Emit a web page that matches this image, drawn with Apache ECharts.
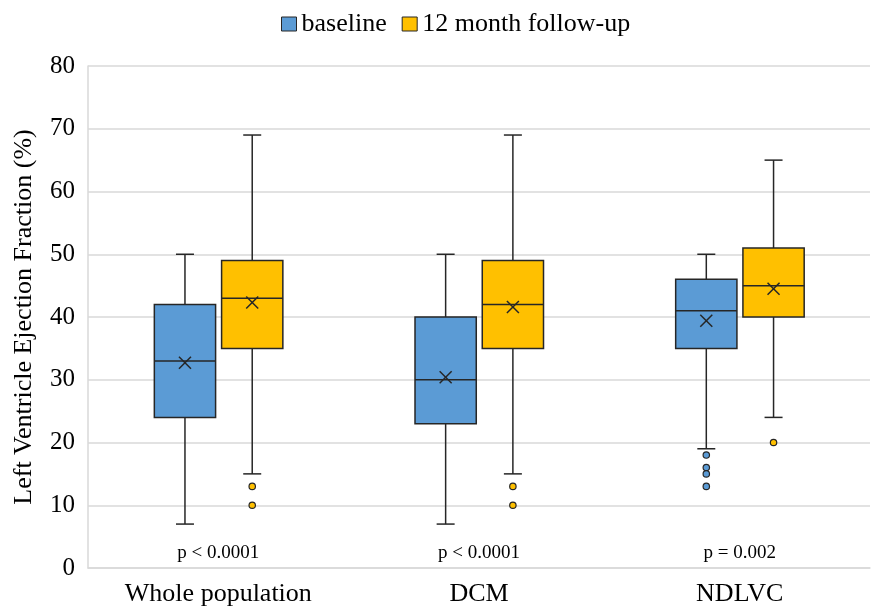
<!DOCTYPE html>
<html>
<head>
<meta charset="utf-8">
<script src="https://cdn.jsdelivr.net/npm/echarts@6/dist/echarts.min.js"></script>
<style>
html, body { margin: 0; padding: 0; background: #fff; }
#chart { width: 872px; height: 607px; }
</style>
</head>
<body>
<div id="chart"></div>
<script>
// data: [min, Q1, median, Q3, max]
var categories = ['Whole population', 'DCM', 'NDLVC'];
var baselineStats = [[7, 24, 33, 42, 50], [7, 23, 30, 40, 50], [19, 35, 41, 46, 50]];
var baselineMeans = [32.7, 30.4, 39.4];
var followupStats = [[15, 35, 43, 49, 69], [15, 35, 42, 49, 69], [24, 40, 45, 51, 65]];
var followupMeans = [42.3, 41.6, 44.5];
// outliers: [category index, value]
var baselineOutliers = [[2, 18], [2, 16], [2, 15], [2, 13]];
var followupOutliers = [[0, 13], [0, 10], [1, 13], [1, 10], [2, 20]];
var pValues = ['p < 0.0001', 'p < 0.0001', 'p = 0.002'];
var yTicks = [0, 10, 20, 30, 40, 50, 60, 70, 80];

var FONT = 'Liberation Serif';
var BLUE = '#5B9BD5';
var GOLD = '#FFC000';
var EDGE = '#262626';

function boxData(stats, means) {
    return stats.map(function (s, i) {
        return [i].concat(s).concat([means[i]]);
    });
}

function renderBox(offset, color) {
    return function (params, api) {
        var idx = api.value(0);
        var band = api.size([1, 0])[0];
        var cx = api.coord([idx, 0])[0] + band * offset;
        var w = band * 0.235;
        var cap = 9;
        var yMin = api.coord([idx, api.value(1)])[1];
        var yQ1 = api.coord([idx, api.value(2)])[1];
        var yMed = api.coord([idx, api.value(3)])[1];
        var yQ3 = api.coord([idx, api.value(4)])[1];
        var yMax = api.coord([idx, api.value(5)])[1];
        var yMean = api.coord([idx, api.value(6)])[1];
        var ls = { stroke: EDGE, lineWidth: 1.5 };
        var m = 6;
        return {
            type: 'group',
            children: [
                { type: 'line', shape: { x1: cx, y1: yQ3, x2: cx, y2: yMax }, style: ls },
                { type: 'line', shape: { x1: cx, y1: yQ1, x2: cx, y2: yMin }, style: ls },
                { type: 'line', shape: { x1: cx - cap, y1: yMax, x2: cx + cap, y2: yMax }, style: ls },
                { type: 'line', shape: { x1: cx - cap, y1: yMin, x2: cx + cap, y2: yMin }, style: ls },
                { type: 'rect', shape: { x: cx - w / 2, y: yQ3, width: w, height: yQ1 - yQ3 },
                  style: { fill: color, stroke: EDGE, lineWidth: 1.5 } },
                { type: 'line', shape: { x1: cx - w / 2, y1: yMed, x2: cx + w / 2, y2: yMed }, style: ls },
                { type: 'line', shape: { x1: cx - m, y1: yMean - m, x2: cx + m, y2: yMean + m }, style: ls },
                { type: 'line', shape: { x1: cx - m, y1: yMean + m, x2: cx + m, y2: yMean - m }, style: ls }
            ]
        };
    };
}

function renderOutlier(offset, color) {
    return function (params, api) {
        var band = api.size([1, 0])[0];
        var p = api.coord([api.value(0), api.value(1)]);
        return {
            type: 'circle',
            shape: { cx: p[0] + band * offset, cy: p[1], r: 3.2 },
            style: { fill: color, stroke: EDGE, lineWidth: 1.2 }
        };
    };
}

var myChart = echarts.init(document.getElementById('chart'));
myChart.setOption({
    animation: false,
    legend: {
        top: 6,
        left: 276,
        itemWidth: 15,
        itemHeight: 14,
        itemGap: 15,
        icon: 'rect',
        textStyle: { fontFamily: FONT, fontSize: 26, color: '#000' },
        data: [
            { name: 'baseline', itemStyle: { color: BLUE, borderColor: EDGE, borderWidth: 1 } },
            { name: '12 month follow-up', itemStyle: { color: GOLD, borderColor: EDGE, borderWidth: 1 } }
        ]
    },
    grid: { left: 88, right: 2, top: 66, bottom: 38 },
    xAxis: {
        type: 'category',
        data: categories,
        axisTick: { show: false },
        axisLine: { lineStyle: { color: '#d9d9d9', width: 1.5 } },
        axisLabel: { fontFamily: FONT, fontSize: 26, color: '#000', margin: 13 }
    },
    yAxis: {
        type: 'value',
        min: yTicks[0],
        max: yTicks[yTicks.length - 1],
        interval: 10,
        name: 'Left Ventricle Ejection Fraction (%)',
        nameLocation: 'middle',
        nameGap: 51,
        nameTextStyle: { fontFamily: FONT, fontSize: 26, color: '#000' },
        axisLine: { show: true, lineStyle: { color: '#d9d9d9', width: 1.5 } },
        axisTick: { show: false },
        splitLine: { lineStyle: { color: '#d9d9d9', width: 1.5 } },
        axisLabel: { fontFamily: FONT, fontSize: 25, color: '#000', margin: 13 }
    },
    series: [
        {
            name: 'baseline', type: 'custom', clip: false,
            itemStyle: { color: BLUE },
            encode: { x: 0, y: [1, 2, 3, 4, 5, 6] },
            data: boxData(baselineStats, baselineMeans),
            renderItem: renderBox(-0.128, BLUE)
        },
        {
            name: '12 month follow-up', type: 'custom', clip: false,
            itemStyle: { color: GOLD },
            encode: { x: 0, y: [1, 2, 3, 4, 5, 6] },
            data: boxData(followupStats, followupMeans),
            renderItem: renderBox(0.13, GOLD)
        },
        {
            name: 'baseline', type: 'custom', clip: false,
            itemStyle: { color: BLUE },
            encode: { x: 0, y: 1 },
            data: baselineOutliers,
            renderItem: renderOutlier(-0.128, BLUE)
        },
        {
            name: '12 month follow-up', type: 'custom', clip: false,
            itemStyle: { color: GOLD },
            encode: { x: 0, y: 1 },
            data: followupOutliers,
            renderItem: renderOutlier(0.13, GOLD)
        },
        {
            name: 'p', type: 'custom', clip: false, silent: true,
            data: pValues.map(function (t, i) { return [i, 0]; }),
            renderItem: function (params, api) {
                var p = api.coord([api.value(0), 0]);
                return {
                    type: 'text',
                    style: {
                        x: p[0], y: p[1] - 15,
                        text: pValues[params.dataIndex],
                        fontFamily: FONT, fontSize: 19, fill: '#000',
                        align: 'center', verticalAlign: 'middle'
                    }
                };
            }
        }
    ]
});
</script>
</body>
</html>
